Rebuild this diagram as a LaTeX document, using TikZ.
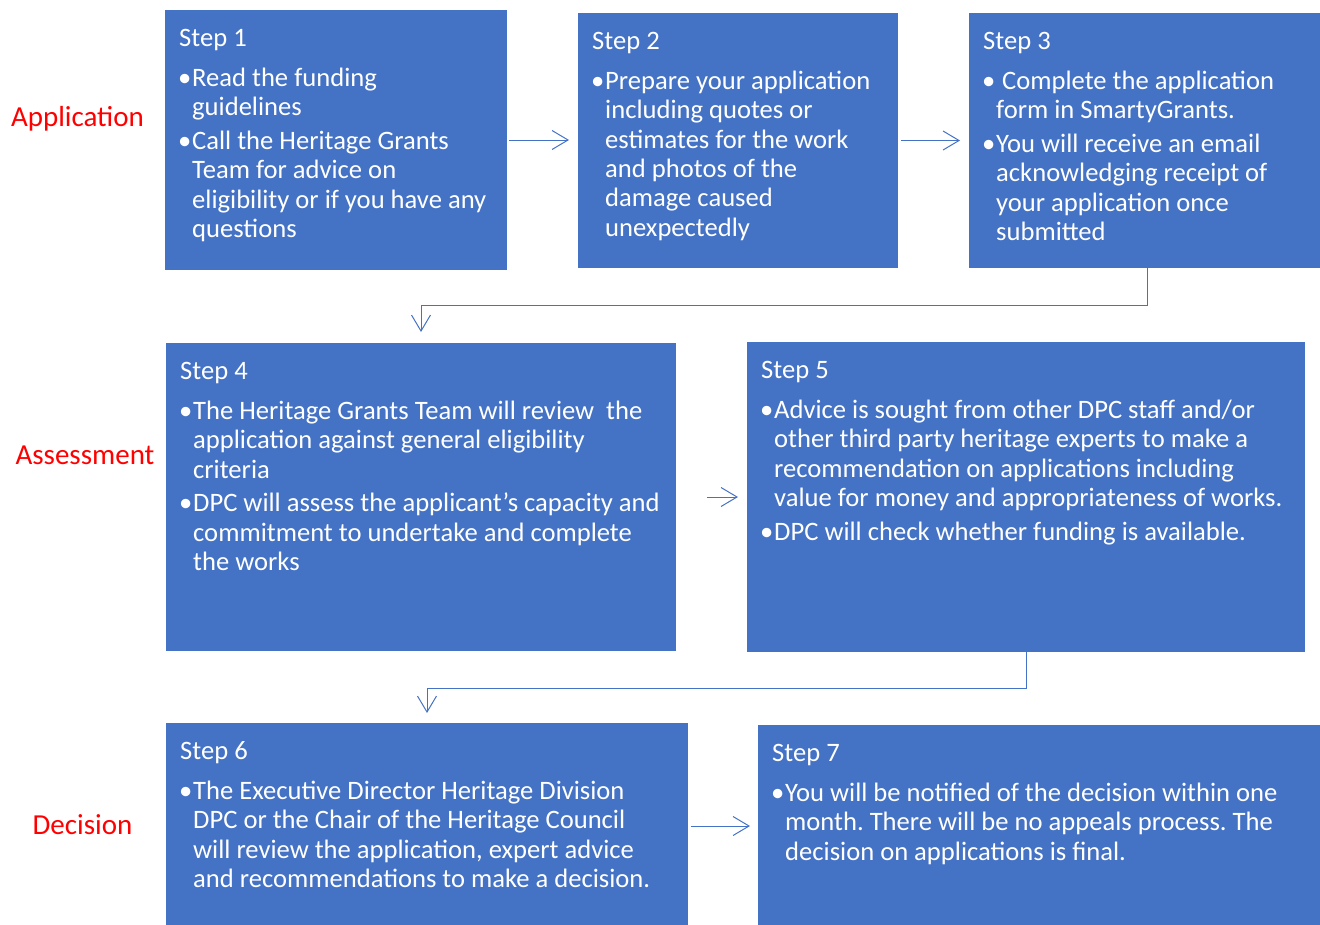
\documentclass[tikz,border=0pt]{standalone}
\usepackage{fontspec}
\setmainfont{Carlito}
\usetikzlibrary{arrows.meta}
\definecolor{boxblue}{HTML}{4472C4}
\frenchspacing
\newcommand{\hd}[1]{\hbox{\kern2pt #1}\vskip11.2pt}
\newcommand{\bi}[1]{\hbox{\makebox[15pt][l]{\kern1pt •}#1}}
\newcommand{\cl}[1]{\hbox{\kern15pt #1}}
\newcommand{\gp}{\vskip4.5pt}
\newcommand{\stxt}[1]{\vtop{\baselineskip=29.3pt\lineskiplimit=-100pt\lineskip=0pt #1}}
\begin{document}
\begin{tikzpicture}[x=1pt,y=-1pt,
  stepbox/.style={fill=boxblue, draw=none, inner sep=0pt, outer sep=0pt, anchor=north west},
  steptext/.style={text=white, inner sep=0pt, anchor=base west, font=\fontsize{26.6}{29.3}\selectfont},
  lab/.style={text=red, inner sep=0pt, anchor=base, font=\fontsize{29}{34}\selectfont},
  arr/.style={draw=boxblue, line width=1pt, -{Straight Barb[length=16pt,width=19pt,line width=1pt]}}]
\useasboundingbox (0,0) rectangle (1320,924);
\begin{scope}
\clip (0,0) rectangle (1320,924);
% boxes
\node[stepbox, minimum width=342pt, minimum height=260pt] (s1) at (165,10) {};
\node[stepbox, minimum width=320pt, minimum height=255pt] (s2) at (578,13) {};
\node[stepbox, minimum width=355pt, minimum height=255pt] (s3) at (969,13) {};
\node[stepbox, minimum width=510pt, minimum height=308pt] (s4) at (166,343) {};
\node[stepbox, minimum width=558pt, minimum height=310pt] (s5) at (747,342) {};
\node[stepbox, minimum width=522pt, minimum height=206pt] (s6) at (166,723) {};
\node[stepbox, minimum width=566pt, minimum height=204pt] (s7) at (758,725) {};
\end{scope}
% texts
\node[steptext] (t1) at ([xshift=12pt,yshift=-36pt]s1.north west) {\stxt{%
  \hd{Step 1}
  \bi{Read the funding}
  \cl{guidelines}\gp
  \bi{Call the Heritage Grants}
  \cl{Team for advice on}
  \cl{eligibility or if you have any}
  \cl{questions}}};
\node[steptext] (t2) at ([xshift=12pt,yshift=-36pt]s2.north west) {\stxt{%
  \hd{Step 2}
  \bi{Prepare your application}
  \cl{including quotes or}
  \cl{estimates for the work}
  \cl{and photos of the}
  \cl{damage caused}
  \cl{unexpectedly}}};
\node[steptext] (t3) at ([xshift=12pt,yshift=-36pt]s3.north west) {\stxt{%
  \hd{Step 3}
  \bi{\ Complete the application}
  \cl{form in SmartyGrants.}\gp
  \bi{You will receive an email}
  \cl{acknowledging receipt of}
  \cl{your application once}
  \cl{submitted}}};
\node[steptext] (t4) at ([xshift=12pt,yshift=-36pt]s4.north west) {\stxt{%
  \hd{Step 4}
  \bi{The Heritage Grants Team will review\ \ the}
  \cl{application against general eligibility}
  \cl{criteria}\gp
  \bi{DPC will assess the applicant’s capacity and}
  \cl{commitment to undertake and complete}
  \cl{the works}}};
\node[steptext] (t5) at ([xshift=12pt,yshift=-36pt]s5.north west) {\stxt{%
  \hd{Step 5}
  \bi{Advice is sought from other DPC staff and/or}
  \cl{other third party heritage experts to make a}
  \cl{recommendation on applications including}
  \cl{value for money and appropriateness of works.}\gp
  \bi{DPC will check whether funding is available.}}};
\node[steptext] (t6) at ([xshift=12pt,yshift=-36pt]s6.north west) {\stxt{%
  \hd{Step 6}
  \bi{The Executive Director Heritage Division}
  \cl{DPC or the Chair of the Heritage Council}
  \cl{will review the application, expert advice}
  \cl{and recommendations to make a decision.}}};
\node[steptext] (t7) at ([xshift=12pt,yshift=-36pt]s7.north west) {\stxt{%
  \hd{Step 7}
  \bi{You will be notified of the decision within one}
  \cl{month. There will be no appeals process. The}
  \cl{decision on applications is final.}}};
% labels
\node[lab] (la) at (77.5,126) {Application};
\node[lab] (lb) at (85,464) {Assessment};
\node[lab] (lc) at (82.5,834) {Decision};
% connectors
\draw[arr] ([xshift=2pt]s1.east) -- ([xshift=-9pt]s2.west |- s1.east);
\draw[arr] ([xshift=3pt]s2.east) -- ([xshift=-9pt]s3.west |- s2.east);
\draw[arr] ([xshift=31pt]s4.east) -- ([xshift=-9pt]s5.west |- s4.east);
\draw[arr] ([xshift=3pt]s6.east) -- ([xshift=-8pt]s7.west |- s6.east);
\draw[arr] ([xshift=0.5pt]s3.south) -- ++(0,37) -| ([yshift=11pt]s4.north);
\draw[arr] (s5.south) -- ++(0,36) -| ([yshift=10pt]s6.north);
\end{tikzpicture}
\end{document}
